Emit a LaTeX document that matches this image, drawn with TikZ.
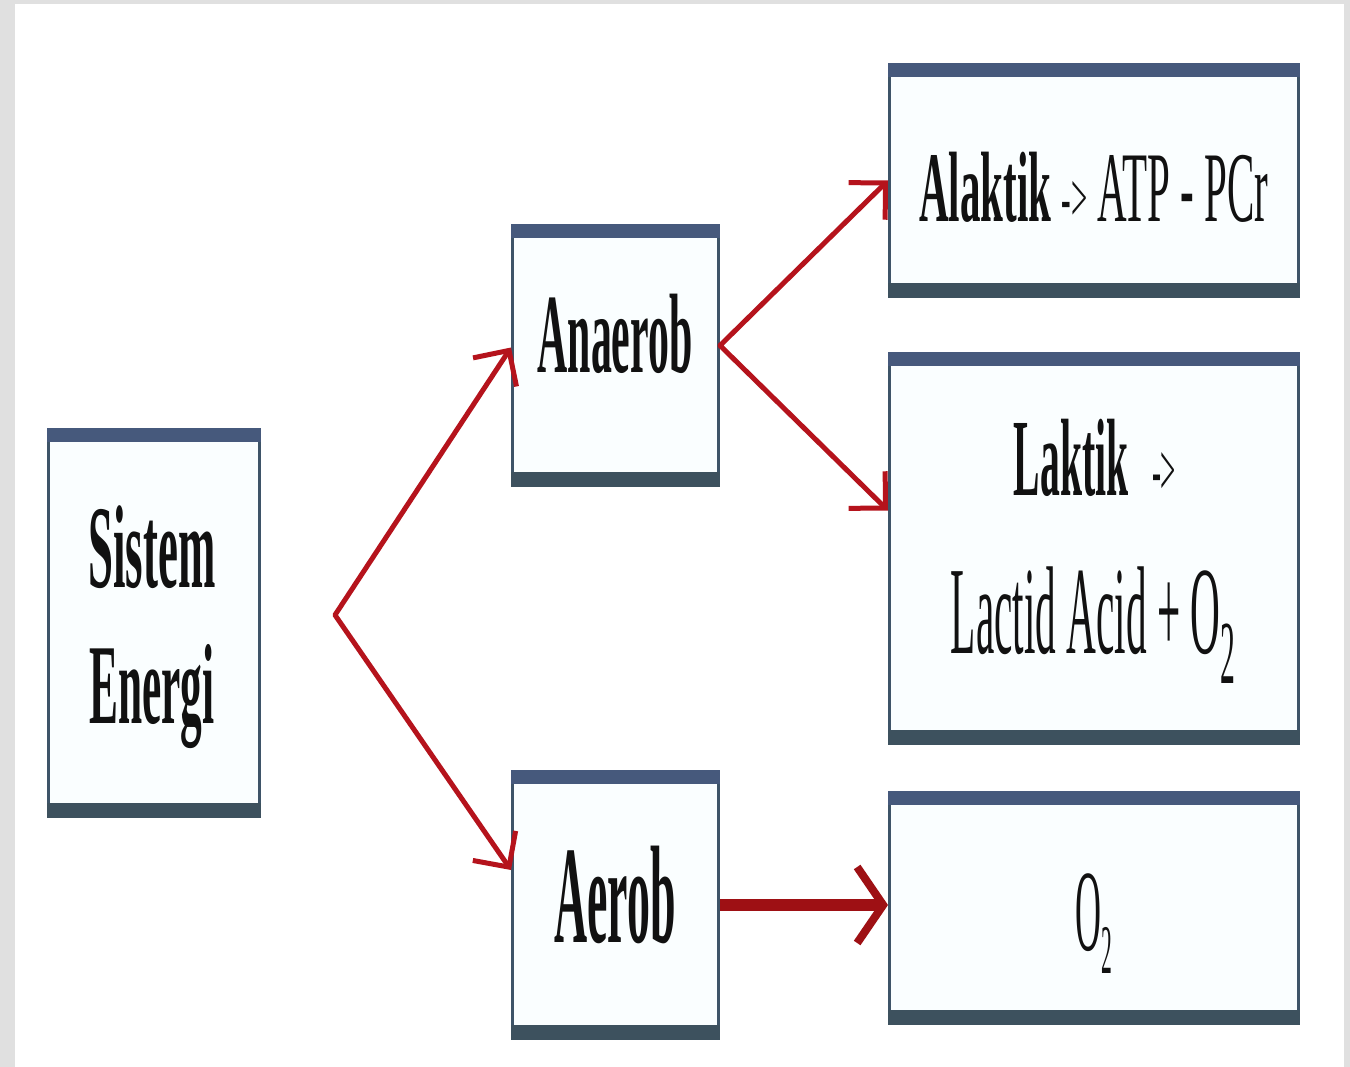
\documentclass[tikz,border=0pt]{standalone}
\usepackage{fontspec}
\setmainfont{Liberation Serif}
\usepackage{graphicx}
\usetikzlibrary{arrows.meta}

\definecolor{frame}{HTML}{E0E0E0}
\definecolor{paper}{HTML}{FAFEFF}
\definecolor{edge}{HTML}{3E5468}
\definecolor{bartop}{HTML}{46597C}
\definecolor{barbot}{HTML}{3D515E}
\definecolor{flow}{HTML}{B5131C}
\definecolor{flowdark}{HTML}{9E1014}
\definecolor{ink}{HTML}{111111}

% horizontally condensed text
\newcommand\squeeze[2]{\scalebox{#1}[1]{#2}}
% lowered subscript two
\newcommand\subtwo[2]{\raisebox{#1}{\scalebox{#2}{2}}}
\newcommand\fsz[1]{\fontsize{#1}{#1}\selectfont}

\tikzset{
  flowtip/.tip={Straight Barb[length=26pt,width=52pt,line width=5pt]},
  panel/.style={draw=edge, line width=3pt, fill=paper, inner sep=0pt},
  lbl/.style={inner sep=0pt, anchor=base, text=ink},
  thinflow/.style={draw=flow, line width=5pt, line join=round, flowtip-flowtip},
  thickflow/.style={draw=flowdark, line width=12pt,
    -{Straight Barb[length=26pt,width=76pt,line width=8pt]}},
}

\begin{document}
\begin{tikzpicture}[x=1pt,y=-1pt]
  % page background with grey frame
  \fill[frame] (0,0) rectangle (1350,1067);
  \fill[white] (15,4) rectangle (1344,1067);
  \useasboundingbox (0,0) rectangle (1350,1067);

  % boxes
  \node[panel, minimum width=211pt, minimum height=387pt] (sys) at (154,623) {};
  \node[panel, minimum width=206pt, minimum height=260pt] (ana) at (615.5,355.5) {};
  \node[panel, minimum width=206pt, minimum height=267pt] (aer) at (615.5,905) {};
  \node[panel, minimum width=409pt, minimum height=232pt] (ala) at (1094,180.5) {};
  \node[panel, minimum width=409pt, minimum height=390pt] (lak) at (1094,548.5) {};
  \node[panel, minimum width=409pt, minimum height=231pt] (oxy) at (1094,908) {};

  % thick top and bottom bands of each box
  \foreach \n in {sys,ana,aer,ala,lak,oxy}{
    \fill[bartop] (\n.north west) rectangle ([yshift=-14pt]\n.north east);
    \fill[barbot] ([yshift=15pt]\n.south west) rectangle (\n.south east);
  }

  % labels
  \node[lbl, font=\bfseries\fsz{118}] (sysA) at (152,587) {\squeeze{0.38}{Sistem}};
  \node[lbl, font=\bfseries\fsz{114}] (sysB) at (152,723) {\squeeze{0.38}{Energi}};
  \node[lbl, font=\bfseries\fsz{113}] (anaT) at (615,373) {\squeeze{0.37}{Anaerob}};
  \node[lbl, font=\bfseries\fsz{139}] (aerT) at (615,942) {\squeeze{0.33}{Aerob}};
  \node[lbl, font=\fsz{100}] (alaT) at (1094,222)
    {\squeeze{0.41}{\textbf{Alaktik} {\fsz{70}->} ATP - PCr}};
  \node[lbl, font=\fsz{110}] (lakA) at (1095,495)
    {\squeeze{0.36}{\textbf{Laktik}\hspace{0.6em}{\fsz{75}->}}};
  \node[lbl, font=\fsz{125}] (lakB) at (1093,653)
    {\squeeze{0.33}{Lactid Acid + O\subtwo{-30pt}{0.72}}};
  \node[lbl, font=\fsz{116}] (oxyT) at (1094,950)
    {\squeeze{0.31}{O\subtwo{-23pt}{0.6}}};

  % connectors
  \coordinate (fork) at (335,615);
  \draw[thinflow] ([yshift=8pt]ana.west) -- (fork) -- ([yshift=35pt]aer.west);
  \draw[thinflow] (ala.west) -- ([yshift=10pt]ana.east) -- ([yshift=38pt]lak.west);
  \draw[thickflow] (aer.east) -- (aer.east -| oxy.west);
\end{tikzpicture}
\end{document}
